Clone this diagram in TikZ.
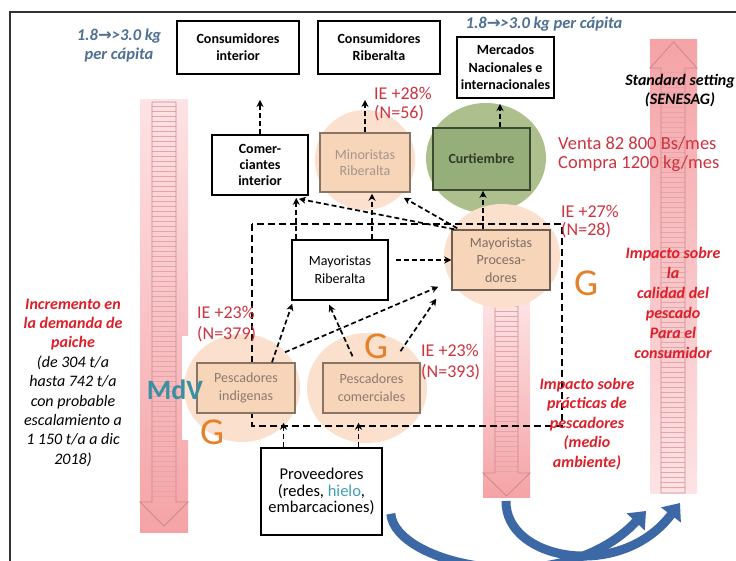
\documentclass[tikz,border=0pt]{standalone}
\usepackage{fontspec}
\setmainfont{Carlito}
\newfontfamily\symfont{DejaVu Sans}
\usetikzlibrary{arrows.meta,calc}

\definecolor{kgblue}{HTML}{4F6F95}
\definecolor{iered}{HTML}{CE3440}
\definecolor{impred}{HTML}{DE1F29}
\definecolor{gorange}{HTML}{E5812A}
\definecolor{mdvteal}{HTML}{3A8FA3}
\definecolor{hielo}{HTML}{3EA0B8}
\definecolor{peachcirc}{HTML}{FAE0CD}
\definecolor{peachbox}{HTML}{F7D5B9}
\definecolor{peachdraw}{HTML}{8A7565}
\definecolor{peachtext}{HTML}{8C7A70}
\definecolor{greencirc}{HTML}{AEBF8E}
\definecolor{greenbox}{HTML}{96AE7A}
\definecolor{greendraw}{HTML}{3C4A30}
\definecolor{bluec}{HTML}{3D68A6}
\definecolor{pinkL}{HTML}{FDE3E5}
\definecolor{pinkD}{HTML}{F5A3A6}
\definecolor{pinkline}{HTML}{C98A8E}
\definecolor{hatchc}{HTML}{E3A5A9}

\newcommand\arr{{\symfont\bfseries\itshape →}}

\begin{document}
\begin{tikzpicture}[x=1pt,y=-1pt,
  box/.style={draw=black, line width=1.8pt, fill=white, inner sep=0pt, align=center},
  boldbox/.style={box, font=\fontsize{14}{17}\selectfont\bfseries},
  pbox/.style={draw=peachdraw, line width=1.5pt, fill=peachbox, text=peachtext,
    inner sep=0pt, align=center, font=\fontsize{14}{18}\selectfont},
  conn/.style={draw=black, line width=1.7pt, dash pattern=on 5pt off 3pt,
    -{Stealth[length=7pt,width=7pt]}},
  dashline/.style={draw=black, line width=1.7pt, dash pattern=on 7pt off 4pt},
  bluearr/.style={draw=bluec, line width=9pt, -{Triangle[length=15pt,width=24pt]}},
  pinkout/.style={draw=pinkline, line width=0.8pt},
  hatch/.style={draw=hatchc, line width=0.35pt},
  ielabel/.style={text=iered, align=left, anchor=west, inner sep=0pt,
    font=\fontsize{18}{20}\selectfont},
  gmark/.style={text=gorange, inner sep=0pt, font=\fontsize{38}{38}\selectfont},
  note/.style={align=center, inner sep=0pt}
]
\useasboundingbox (0,0) rectangle (736,561);
\fill[white] (0,0) rectangle (736,561);

% outer frame
\draw[line width=1.6pt, black!80] (10,575) -- (10,12) -- (750,12);

% ---------- large pink arrows ----------
% demand (left, downward)
\shade[top color=pinkL, bottom color=pinkD] (140,100) rectangle (188,532);
\foreach \yy in {106,111,...,500} \draw[hatch] (152,\yy) -- (176,\yy);
\draw[pinkout] (152,102) -- (176,102) -- (176,502) -- (188,502) -- (164,526)
  -- (140,502) -- (152,502) -- cycle;
% fishing practices (middle, downward)
\shade[top color=pinkL, bottom color=pinkD] (483,300) rectangle (530,497);
\foreach \yy in {306,311,...,471} \draw[hatch] (495,\yy) -- (518,\yy);
\draw[pinkout] (495,300) -- (518,300) -- (518,473) -- (530,473) -- (506.5,496)
  -- (483,473) -- (495,473) -- cycle;
% quality (right, upward)
\shade[top color=pinkD, bottom color=pinkL] (650,40) rectangle (697,493);
\foreach \yy in {72,77,...,490} \draw[hatch] (661,\yy) -- (685,\yy);
\draw[pinkout] (661,493) -- (661,68) -- (650,68) -- (673.5,42) -- (697,68)
  -- (685,68) -- (685,493) -- cycle;

% white patch behind the fishers
\fill[white] (182,336) rectangle (300,440);

% ---------- background discs ----------
\fill[peachcirc] (365,160) ellipse [x radius=50, y radius=50];
\fill[greencirc] (486,158) ellipse [x radius=60, y radius=55];
\fill[peachcirc] (502,256) ellipse [x radius=58, y radius=52];
\fill[peachcirc] (242,388) ellipse [x radius=58, y radius=54];
\fill[peachcirc] (367,388) ellipse [x radius=60, y radius=55];

% dashed frame around the fishers and wholesalers
\draw[dashline] (252,224) rectangle (562,426);

% ---------- boxes ----------
\node[boldbox, minimum width=122, minimum height=53] (ci) at (238,47.5)
  {Consumidores\\interior};
\node[boldbox, minimum width=122, minimum height=53] (cr) at (379,47.5)
  {Consumidores\\Riberalta};
\node[box, minimum width=97, minimum height=61,
  font=\fontsize{14}{17.5}\selectfont\bfseries] (mn) at (505.5,67.5)
  {Mercados\\Nacionales e\\internacionales};
\node[boldbox, minimum width=96, minimum height=60, font=\fontsize{14}{16}\selectfont\bfseries]
  (com) at (260,165) {Comer-\\ciantes\\interior};
\node[pbox, minimum width=90, minimum height=59, text=peachtext!80,
  font=\fontsize{14}{16}\selectfont] (mino) at (365,162.5) {Minoristas\\Riberalta};
\node[draw=greendraw, line width=1.6pt, fill=greenbox, text=greendraw!80!black,
  minimum width=97, minimum height=62, inner sep=0pt,
  font=\fontsize{14}{16}\selectfont\bfseries] (curt) at (481.5,159) {Curtiembre};
\node[pbox, minimum width=98, minimum height=60, draw=peachdraw!80!black,
  text=peachtext!90!black, font=\fontsize{14}{17.5}\selectfont] (mp) at (501,260)
  {Mayoristas\\Procesa-\\dores};
\node[box, minimum width=96, minimum height=60, line width=1.6pt,
  font=\fontsize{14}{18}\selectfont] (mr) at (340,270) {Mayoristas\\Riberalta};
\node[pbox, minimum width=98, minimum height=50] (pi) at (246,388)
  {Pescadores\\indigenas};
\node[pbox, minimum width=97, minimum height=50] (pc) at (371.5,388)
  {Pescadores\\comerciales};
\node[box, minimum width=121, minimum height=87, line width=1.6pt,
  font=\fontsize{16.5}{16.8}\selectfont] (prov) at (321.5,491.5)
  {Proveedores\\(redes, \textcolor{hielo}{hielo},\\embarcaciones)};

% ---------- flows ----------
\coordinate (tcom) at (260,100);
\coordinate (tmino) at (365,100);
\coordinate (tcurt) at (500,104);
\draw[conn] (com.north) -- (tcom);
\draw[conn] (mino.north) -- (tmino);
\draw[conn] ($(curt.north)+(18.5,0)$) -- (tcurt);
\draw[conn] ($(mp.north)+(-18,0)$) coordinate (m1) -- (m1 |- curt.south);
\draw[conn] ($(mr.north)+(32,0)$) coordinate (m2) -- ($(m2 |- mino.south)+(0,1)$);
\draw[conn] ($(mr.north west)+(5,0)$) coordinate (m3) -- ($(m3 |- com.south)+(0,2)$);
\draw[conn] ($(mp.north west)+(3,0)$) -- ($(com.south east)+(-10,3)$);
\draw[conn] ($(mp.north west)+(6,-1)$) -- ($(mino.south east)+(-7,5)$);
\coordinate (m4) at ($(mr.east)+(7,-10)$);
\draw[conn] (m4) -- (mp.west |- m4);
\draw[conn] ($(pi.north)+(26,0)$) -- ($(mr.south west)+(1,3)$);
\draw[conn] ($(pi.north)+(39,-10)$) -- ($(mp.south west)+(-13,-4)$);
\draw[conn] ($(pc.north)+(-19,-6)$) -- ($(mr.south west)+(38,4)$);
\draw[conn] ($(pc.north)+(29,-11)$) -- ($(mp.south west)+(-15,8)$);
\draw[conn] ($(prov.north)+(-38,0)$) coordinate (p1) -- ($(p1 |- pi.south)+(0,9)$);
\draw[conn] ($(prov.north)+(37,0)$) coordinate (p2) -- ($(p2 |- pc.south)+(0,9)$);

% ---------- curved impact arrows ----------
\coordinate (b1) at ($(prov.south east)+(8,-22)$);
\coordinate (b1e) at (646,511);
\coordinate (b2) at (506,501);
\coordinate (b2e) at (680,503);
\draw[bluearr] (b1) .. controls (395,565) and (560,602) .. (b1e);
\draw[bluearr] (b2) .. controls (505,560) and (620,582) .. (b2e);

% ---------- labels ----------
\node[note, text=kgblue, font=\fontsize{16.5}{19}\selectfont\bfseries\itshape]
  (kg1) at (119,46) {1.8\arr>3.0 kg\\per cápita};
\node[note, text=kgblue, font=\fontsize{16.5}{19}\selectfont\bfseries\itshape]
  (kg2) at (544,24) {1.8\arr>3.0 kg per cápita};

\node[ielabel, font=\fontsize{18}{19}\selectfont] (ie28) at (374,104.5) {IE +28\%\\(N=56)};
\node[ielabel, font=\fontsize{18.5}{19}\selectfont] (venta) at (558,154)
  {Venta 82 800 Bs/mes\\Compra 1200 kg/mes};
\node[ielabel, font=\fontsize{18}{18}\selectfont] (ie27) at (561,221.5) {IE +27\%\\(N=28)};
\node[ielabel, font=\fontsize{18}{21}\selectfont] (ie379) at (197,324.5) {IE +23\%\\(N=379)};
\node[ielabel, font=\fontsize{18}{21}\selectfont] (ie393) at (421,362.5) {IE +23\%\\(N=393)};

\node[note, font=\fontsize{16}{19}\selectfont\bfseries\itshape] (std) at (680,90.5)
  {Standard setting\\(SENESAG)};
\node[note, text=impred, font=\fontsize{16}{20}\selectfont\bfseries\itshape]
  (imq) at (673,303) {Impacto sobre\\la\\calidad del\\pescado\\Para el\\consumidor};
\node[note, text=impred, font=\fontsize{16}{19.5}\selectfont\bfseries\itshape]
  (imp) at (587,424) {Impacto sobre\\prácticas de\\pescadores\\(medio\\ambiente)};
\node[note, font=\fontsize{16}{19.4}\selectfont\itshape] (dem) at (73,382.6)
  {\textcolor{impred}{\bfseries Incremento en}\\
   \textcolor{impred}{\bfseries la demanda de}\\
   \textcolor{impred}{\bfseries paiche}\\
   (de 304 t/a\\hasta 742 t/a\\con probable\\escalamiento a\\1 150 t/a a dic\\2018)};

\node[gmark] (g1) at (212,432) {G};
\node[gmark] (g2) at (376,346) {G};
\node[gmark] (g3) at (586,283) {G};
\node[text=mdvteal, inner sep=0pt, font=\fontsize{28}{28}\selectfont\bfseries]
  (mdv) at (175,390) {MdV};
\end{tikzpicture}
\end{document}
